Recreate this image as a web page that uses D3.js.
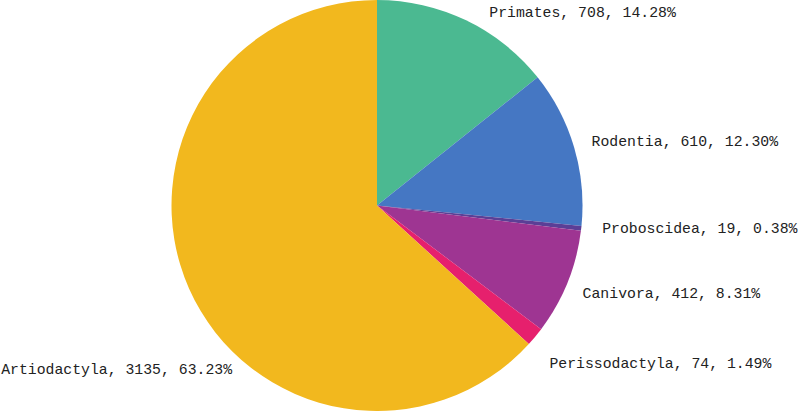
<!DOCTYPE html>
<html>
<head>
<meta charset="utf-8">
<script src="https://cdn.jsdelivr.net/npm/d3@7"></script>
<style>
  html, body { margin: 0; padding: 0; background: #fff; }
  svg { display: block; }
  text { font-family: "Liberation Mono", "DejaVu Sans Mono", monospace; font-size: 14.8px; fill: #222; }
</style>
</head>
<body>
<svg id="chart" width="800" height="411"></svg>
<script>
const categories = ["Primates", "Rodentia", "Proboscidea", "Canivora", "Perissodactyla", "Artiodactyla"];
const values = [708, 610, 19, 412, 74, 3135];
const percents = ["14.28%", "12.30%", "0.38%", "8.31%", "1.49%", "63.23%"];
const colors = ["#4bb991", "#4577c3", "#5b3f96", "#9e3592", "#e6206d", "#f2b81e"];
// label nudges relative to the radial anchor point (layout, not data)
const labelNudge = [[18, 7], [6, 2], [9, 3], [4, 11], [5, 24], [54, 81]];

const W = 800, H = 411, cx = 377, cy = 205.5, R = 205.5;
const svg = d3.select("#chart");
const g = svg.append("g").attr("transform", `translate(${cx},${cy})`);

const data = categories.map((c, i) => ({ name: c, value: values[i], pct: percents[i], color: colors[i], i }));
const pie = d3.pie().value(d => d.value).sort(null);
const arcs = pie(data);
const arc = d3.arc().innerRadius(0).outerRadius(R);
const outer = d3.arc().innerRadius(R + 12).outerRadius(R + 12);

g.selectAll("path").data(arcs).join("path")
  .attr("d", arc)
  .attr("fill", d => d.data.color);

g.selectAll("text").data(arcs).join("text")
  .each(function(d) {
    const [x, y] = outer.centroid(d);
    const mid = (d.startAngle + d.endAngle) / 2;
    const right = mid < Math.PI;
    const n = labelNudge[d.data.i];
    d3.select(this)
      .attr("x", x + n[0])
      .attr("y", y + n[1])
      .attr("text-anchor", right ? "start" : "end")
      .text(`${d.data.name}, ${d.data.value}, ${d.data.pct}`);
  });
</script>
</body>
</html>
